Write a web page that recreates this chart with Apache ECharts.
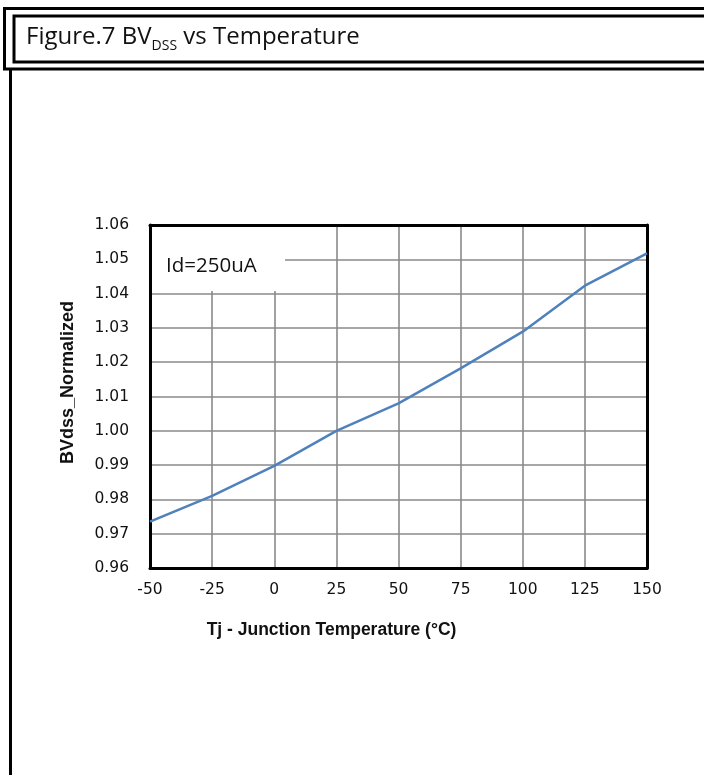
<!DOCTYPE html>
<html>
<head>
<meta charset="utf-8">
<script src="https://cdn.jsdelivr.net/npm/echarts@6/dist/echarts.min.js"></script>
<style>
  html, body { margin: 0; padding: 0; background: #fff; }
  #chart { width: 704px; height: 775px; }
</style>
</head>
<body>
<div id="chart"></div>
<script>
// Junction temperature (°C) and normalized breakdown voltage
const temperatures = [-50, -25, 0, 25, 50, 75, 100, 125, 150];
const bvdssNormalized = [0.9735, 0.981, 0.9898, 1.0, 1.008, 1.0182, 1.0289, 1.0423, 1.0517];
const xTicks = [-50, -25, 0, 25, 50, 75, 100, 125, 150];
const yTicks = [0.96, 0.97, 0.98, 0.99, 1.00, 1.01, 1.02, 1.03, 1.04, 1.05, 1.06];
const noteText = 'Id=250uA';

const chart = echarts.init(document.getElementById('chart'), null, { renderer: 'canvas' });

const tickFont = { fontFamily: 'DejaVu Sans', fontSize: 15.5, color: '#111' };
const nameFont = { fontFamily: 'Liberation Sans', fontSize: 17.5, fontWeight: 'bold', color: '#111' };
const gridLine = { show: true, lineStyle: { color: '#8a8a8a', width: 1.6 } };
const frameLine = { show: true, onZero: false, lineStyle: { color: '#000', width: 3 } };

chart.setOption({
  animation: false,
  backgroundColor: '#fff',
  grid: { left: 150, top: 225, width: 497, height: 343 },
  xAxis: [{
    type: 'value', position: 'bottom',
    min: xTicks[0], max: xTicks[xTicks.length - 1], interval: 25,
    axisLine: frameLine,
    axisTick: { show: false },
    splitLine: gridLine,
    axisLabel: Object.assign({ margin: 14, formatter: v => String(v) }, tickFont),
    name: 'Tj - Junction Temperature (°C)',
    nameLocation: 'middle', nameGap: 53,
    nameTextStyle: Object.assign({ padding: [0, 134, 0, 0] }, nameFont)
  }, {
    // top edge of the plot frame
    type: 'value', position: 'top',
    min: xTicks[0], max: xTicks[xTicks.length - 1], interval: 25,
    axisLine: frameLine, axisTick: { show: false }, axisLabel: { show: false }, splitLine: { show: false }
  }],
  yAxis: [{
    type: 'value', position: 'left',
    min: yTicks[0], max: yTicks[yTicks.length - 1], interval: 0.01,
    axisLine: frameLine,
    axisTick: { show: false },
    splitLine: gridLine,
    axisLabel: Object.assign({ margin: 21, formatter: v => v.toFixed(2) }, tickFont),
    name: 'BVdss_Normalized',
    nameLocation: 'middle', nameGap: 73,
    nameTextStyle: Object.assign({ padding: [0, 0, 0, 28] }, nameFont, { fontSize: 18 })
  }, {
    // right edge of the plot frame
    type: 'value', position: 'right',
    min: yTicks[0], max: yTicks[yTicks.length - 1], interval: 0.01,
    axisLine: frameLine, axisTick: { show: false }, axisLabel: { show: false }, splitLine: { show: false }
  }],
  series: [{
    type: 'line',
    data: temperatures.map((t, i) => [t, bvdssNormalized[i]]),
    showSymbol: false,
    lineStyle: { color: '#4f81bd', width: 2.5 },
    z: 3
  }],
  graphic: [
    // outer frame of the heading
    { type: 'rect', z: 10, shape: { x: 4.5, y: 8.5, width: 720, height: 60.5 },
      style: { fill: 'transparent', stroke: '#000', lineWidth: 3 } },
    // inner heading box
    { type: 'rect', z: 10, shape: { x: 14, y: 16, width: 720, height: 46 },
      style: { fill: 'transparent', stroke: '#000', lineWidth: 3 } },
    // left page rule below the heading
    { type: 'line', z: 10, shape: { x1: 10.5, y1: 69, x2: 10.5, y2: 780 },
      style: { stroke: '#000', lineWidth: 3 } },
    // heading text with subscript
    { type: 'text', z: 11, left: 26, top: 25,
      style: {
        text: '{m|Figure.7 BV}{s|DSS}{m| vs Temperature}',
        rich: {
          m: { fontFamily: 'Open Sans', fontSize: 24, fill: '#111', lineHeight: 30, verticalAlign: 'bottom' },
          s: { fontFamily: 'Open Sans', fontSize: 14, fill: '#111', lineHeight: 30, verticalAlign: 'bottom', padding: [0, 0, -4, 0] }
        }
      } },
    // condition note box inside the plot
    { type: 'rect', z: 5, shape: { x: 152, y: 227, width: 133, height: 64 },
      style: { fill: '#fff', stroke: 'none' } },
    { type: 'text', z: 6, left: 166, top: 256,
      style: { text: noteText, fontFamily: 'Open Sans', fontSize: 20.5, fill: '#111' } }
  ]
});
</script>
</body>
</html>
